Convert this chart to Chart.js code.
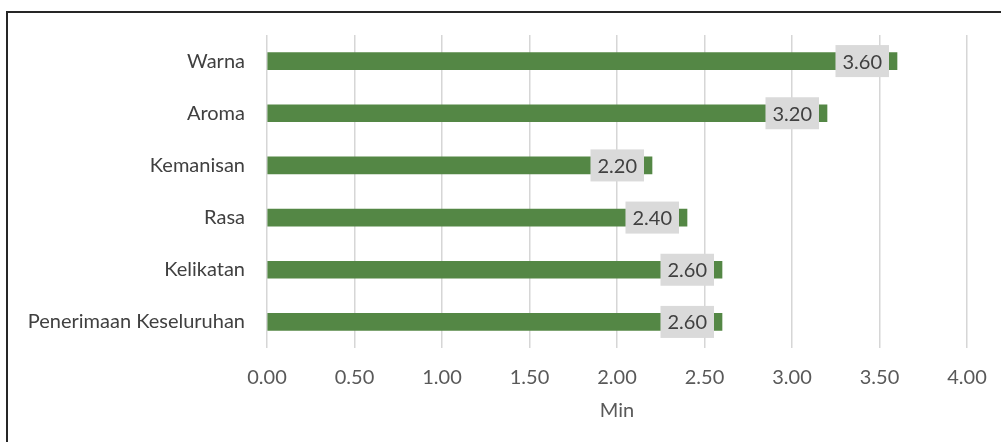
<!DOCTYPE html>
<html>
<head>
<meta charset="utf-8">
<script src="https://cdn.jsdelivr.net/npm/chart.js@4"></script>
<style>
  html, body { margin: 0; padding: 0; background: #fff; overflow: hidden; }
  #frame { position: absolute; left: 6px; top: 11px; width: 1100px; height: 600px; border: 2px solid #262626; }
  #wrap { position: absolute; left: 0; top: 0; width: 1001px; height: 442px; }
</style>
</head>
<body>
<div id="frame"></div>
<div id="wrap"><canvas id="chart" width="1001" height="442"></canvas></div>
<script>
// data
var categories = ['Warna', 'Aroma', 'Kemanisan', 'Rasa', 'Kelikatan', 'Penerimaan Keseluruhan'];
var minValues = [3.60, 3.20, 2.20, 2.40, 2.60, 2.60];
var xMin = 0, xMax = 4, xStep = 0.5;
var xTitle = 'Min';

var FONT = 'Lato';
var FSIZE = 20;

// value labels in grey boxes at the inner end of each bar
var valueLabels = {
  id: 'valueLabels',
  afterDatasetsDraw: function (chart) {
    var ctx = chart.ctx;
    var meta = chart.getDatasetMeta(0);
    ctx.save();
    ctx.font = FSIZE + 'px ' + FONT;
    meta.data.forEach(function (bar, i) {
      var txt = minValues[i].toFixed(2);
      var w = ctx.measureText(txt).width + 14;
      var h = 32;
      var right = bar.x - 8;
      ctx.fillStyle = '#dadada';
      ctx.fillRect(right - w, bar.y - h / 2, w, h);
      ctx.fillStyle = '#404040';
      ctx.textAlign = 'center';
      ctx.textBaseline = 'middle';
      ctx.fillText(txt, right - w / 2, bar.y + 1);
    });
    ctx.restore();
  }
};

new Chart(document.getElementById('chart'), {
  type: 'bar',
  data: {
    labels: categories,
    datasets: [{
      label: xTitle,
      data: minValues,
      backgroundColor: '#548745',
      borderWidth: 0,
      barThickness: 17
    }]
  },
  options: {
    indexAxis: 'y',
    responsive: false,
    animation: false,
    layout: { padding: { top: 35, right: 34, bottom: 0, left: 0 } },
    plugins: { legend: { display: false }, tooltip: { enabled: false } },
    scales: {
      x: {
        min: xMin, max: xMax,
        grid: { color: '#d6d6d6', lineWidth: 1.5, drawTicks: false },
        border: { display: false },
        ticks: {
          stepSize: xStep, padding: 18, color: '#595959',
          font: { family: FONT, size: FSIZE },
          callback: function (v) { return Number(v).toFixed(2); }
        },
        title: { display: true, text: xTitle, color: '#595959', font: { family: FONT, size: FSIZE }, padding: { top: 0, bottom: 19 } },
        afterFit: function (s) { s.height = 94; s.paddingLeft = 0; s.paddingRight = 0; }
      },
      y: {
        grid: { display: false, drawTicks: false },
        border: { display: false },
        ticks: { padding: 22, color: '#404040', font: { family: FONT, size: FSIZE } },
        afterFit: function (s) { s.width = 267; }
      }
    }
  },
  plugins: [valueLabels]
});
</script>
</body>
</html>
